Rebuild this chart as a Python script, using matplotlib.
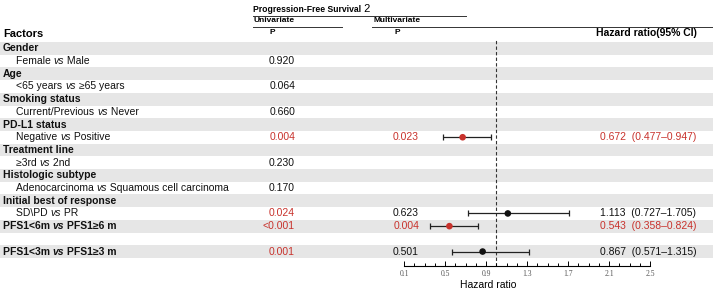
import matplotlib
matplotlib.use("Agg")
import matplotlib.pyplot as plt
import numpy as np

plt.rcParams.update({
    "font.family": ["Liberation Sans", "DejaVu Sans"],
    "font.size": 7.5,
})

RED = "#c8322c"
BLACK = "#111111"
BAND = "#e6e6e6"

# ---- table data ----
row_labels = [
    ["Gender"],
    ["Female ", "vs", " Male"],
    ["Age"],
    ["<65 years ", "vs", " \u226565 years"],
    ["Smoking status"],
    ["Current/Previous ", "vs", " Never"],
    ["PD-L1 status"],
    ["Negative ", "vs", " Positive"],
    ["Treatment line"],
    ["\u22653rd ", "vs", " 2nd"],
    ["Histologic subtype"],
    ["Adenocarcinoma ", "vs", " Squamous cell carcinoma"],
    ["Initial best of response"],
    ["SD\\PD ", "vs", " PR"],
    ["PFS1<6m ", "vs", " PFS1\u22656 m"],
    [""],
    ["PFS1<3m ", "vs", " PFS1\u22653 m"],
]
row_kind = ["head", "sub", "head", "sub", "head", "sub", "head", "sub",
            "head", "sub", "head", "sub", "head", "sub", "boldsub", "blank",
            "boldsub"]

uni_p   = ["", "0.920", "", "0.064", "", "0.660", "", "0.004", "", "0.230",
           "", "0.170", "", "0.024", "<0.001", "", "0.001"]
uni_sig = [0, 0, 0, 0, 0, 0, 0, 1, 0, 0, 0, 0, 0, 1, 1, 0, 1]

# multivariate rows (row index -> values)
multi_rows = [7, 13, 14, 16]
multi_p    = ["0.023", "0.623", "0.004", "0.501"]
hr         = np.array([0.672, 1.113, 0.543, 0.867])
hr_lo      = np.array([0.477, 0.727, 0.358, 0.571])
hr_hi      = np.array([0.947, 1.705, 0.824, 1.315])
multi_sig  = [1, 0, 1, 0]

hr_ticks = [0.1, 0.5, 0.9, 1.3, 1.7, 2.1, 2.5]

W, H = 713, 290
fig = plt.figure(figsize=(W / 100, H / 100), dpi=100)
ax = fig.add_axes([0, 0, 1, 1])
ax.set_xlim(0, W); ax.set_ylim(H, 0); ax.axis("off")

Y0, RH = 42.0, 12.7
def yc(i):
    return Y0 + RH * (i + 0.5)

# gray bands on alternate rows
for i, k in enumerate(row_kind):
    if i % 2 == 0 and k != "blank":
        ax.axhspan(Y0 + RH * i, Y0 + RH * (i + 1), color=BAND, lw=0, zorder=0)

def rich(x, y, parts, weight):
    prev = None
    for s in parts:
        style = "italic" if s == "vs" else "normal"
        if prev is None:
            prev = ax.text(x, y, s, ha="left", va="center", fontweight=weight,
                           fontstyle=style, color=BLACK)
        else:
            prev = ax.annotate(s, xy=(1, 0), xycoords=prev, ha="left",
                               va="bottom", fontweight=weight,
                               fontstyle=style, color=BLACK)

for i, (parts, k) in enumerate(zip(row_labels, row_kind)):
    if k == "head":
        rich(3, yc(i), parts, "bold")
    elif k == "sub":
        rich(16, yc(i), parts, "normal")
    elif k == "boldsub":
        rich(3, yc(i), parts, "bold")

for i, (p, s) in enumerate(zip(uni_p, uni_sig)):
    if p:
        ax.text(295, yc(i), p, ha="right", va="center",
                color=RED if s else BLACK)

for r, p, s, h, lo, hi in zip(multi_rows, multi_p, multi_sig, hr, hr_lo, hr_hi):
    c = RED if s else BLACK
    ax.text(419, yc(r), p, ha="right", va="center", color=c)
    ax.text(600, yc(r), f"{h:.3f}  ({lo:.3f}\u2013{hi:.3f})", ha="left",
            va="center", color=c)

# ---- headers ----
t = ax.text(253, 10, "Progression-Free Survival", fontsize=6.2,
            fontweight="bold", ha="left", va="center")
ax.annotate(" 2", xy=(1, 0.1), xycoords=t, fontsize=8, ha="left", va="bottom")
ax.plot([253, 466], [15.5, 15.5], color="#333333", lw=0.7)
ax.text(253, 21, "Univariate", fontsize=6, fontweight="bold", ha="left", va="center")
ax.plot([253, 342], [26.5, 26.5], color="#333333", lw=0.7)
ax.text(373, 21, "Multivariate", fontsize=6, fontweight="bold", ha="left", va="center")
ax.plot([372, 713], [26.5, 26.5], color="#333333", lw=0.7)
ax.text(272, 33, "P", fontsize=6, fontweight="bold", ha="center", va="center")
ax.text(397, 33, "P", fontsize=6, fontweight="bold", ha="center", va="center")
ax.text(3, 34, "Factors", fontsize=8, fontweight="bold", ha="left", va="center")
ax.text(697, 33, "Hazard ratio(95% CI)", fontsize=7.5, fontweight="bold",
        ha="right", va="center")
ax.text(488, 285, "Hazard ratio", fontsize=7.5, ha="center", va="center")

# ---- forest panel ----
x0, x1, ytop, ybot = 404, 650, 40, 266
fx = fig.add_axes([x0 / W, 1 - ybot / H, (x1 - x0) / W, (ybot - ytop) / H])
fx.set_facecolor("none")
fx.set_xlim(hr_ticks[0], hr_ticks[-1])
fx.set_ylim(ybot, ytop)
for sp in ("left", "right", "top"):
    fx.spines[sp].set_visible(False)
fx.spines["bottom"].set_linewidth(0.8)
fx.set_yticks([])
fx.set_xticks(hr_ticks)
fx.set_xticklabels([f"{t:.1f}" for t in hr_ticks], family="Liberation Serif",
                   fontsize=5.5, color="#555555")
fx.set_xticks(np.arange(0.1, 2.51, 0.1), minor=True)
fx.tick_params(axis="x", which="major", direction="in", length=3.5, width=0.7, pad=3)
fx.tick_params(axis="x", which="minor", direction="in", length=2.5, width=0.7)
fx.axvline(1.0, color="#333333", lw=0.8, ls=(0, (3, 2)), zorder=1)

ys = np.array([yc(r) for r in multi_rows])
fx.errorbar(hr, ys, xerr=[hr - hr_lo, hr_hi - hr], fmt="none",
            ecolor="#222222", elinewidth=0.9, capsize=2, capthick=0.9, zorder=2)
fx.scatter(hr, ys, s=14, c=[RED if s else BLACK for s in multi_sig], zorder=3)

fig.savefig("out.png", dpi=100)
